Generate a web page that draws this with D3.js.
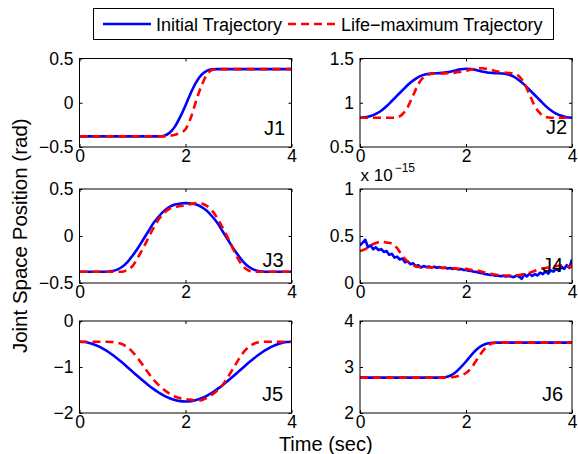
<!DOCTYPE html>
<html>
<head>
<meta charset="utf-8">
<script src="https://cdn.jsdelivr.net/npm/d3@7"></script>
<style>
body { margin: 0; background: #fff; }
text { font-family: "Liberation Sans", Arial, Helvetica, sans-serif; fill: #000; }
</style>
</head>
<body>
<div id="chart"></div>
<script>
// time samples (sec)
var time = [0,0.1,0.2,0.3,0.4,0.5,0.6,0.7,0.8,0.9,1,1.1,1.2,1.3,1.4,1.5,1.6,1.7,1.8,1.9,2,
  2.1,2.2,2.3,2.4,2.5,2.6,2.7,2.8,2.9,3,3.1,3.2,3.3,3.4,3.5,3.6,3.7,3.8,3.9,4];
// finer samples for the noisy J4 trace
var timeFine = [0,0.05,0.1,0.15,0.2,0.25,0.3,0.35,0.4,0.45,0.5,0.55,0.6,0.65,0.7,0.75,0.8,0.85,0.9,0.95,
  1,1.05,1.1,1.15,1.2,1.25,1.3,1.35,1.4,1.45,1.5,1.55,1.6,1.65,1.7,1.75,1.8,1.85,1.9,1.95,
  2,2.05,2.1,2.15,2.2,2.25,2.3,2.35,2.4,2.45,2.5,2.55,2.6,2.65,2.7,2.75,2.8,2.85,2.9,2.95,
  3,3.05,3.1,3.15,3.2,3.25,3.3,3.35,3.4,3.45,3.5,3.55,3.6,3.65,3.7,3.75,3.8,3.85,3.9,3.95,4];

var j1Initial = [-0.38,-0.38,-0.38,-0.38,-0.38,-0.38,-0.38,-0.38,-0.38,-0.38,-0.38,-0.38,-0.38,-0.38,-0.38,-0.38,
  -0.372,-0.34,-0.27,-0.16,-0.03,0.11,0.23,0.315,0.36,
  0.378,0.38,0.38,0.38,0.38,0.38,0.38,0.38,0.38,0.38,0.38,0.38,0.38,0.38,0.38,0.38];
var j1Life = [-0.38,-0.38,-0.38,-0.38,-0.38,-0.38,-0.38,-0.38,-0.38,-0.38,-0.38,-0.38,-0.38,-0.38,-0.38,-0.38,-0.38,
  -0.375,-0.362,-0.34,-0.3,-0.17,0.02,0.19,0.315,0.37,
  0.38,0.38,0.38,0.38,0.38,0.38,0.38,0.38,0.38,0.38,0.38,0.38,0.38,0.38,0.38];

var j2Initial = [0.83,0.835,0.85,0.875,0.91,0.96,1.02,1.08,1.14,1.2,1.25,1.29,1.315,1.328,1.333,1.335,1.34,1.35,1.365,1.378,1.385,
  1.38,1.368,1.353,1.342,1.336,1.334,1.33,1.318,1.295,1.255,1.205,1.145,1.085,1.025,0.965,0.915,0.878,0.852,0.836,0.83];
var j2Life = [0.83,0.83,0.83,0.83,0.83,0.83,0.83,0.835,0.87,0.95,1.08,1.21,1.29,1.32,1.33,1.33,1.332,1.335,1.34,1.35,1.36,
  1.375,1.385,1.39,1.382,1.367,1.352,1.342,1.336,1.328,1.3,1.22,1.09,0.96,0.88,0.84,0.83,0.83,0.83,0.83,0.83];

var j3Initial = [-0.38,-0.38,-0.38,-0.38,-0.38,-0.38,-0.375,-0.36,-0.33,-0.28,-0.21,-0.13,-0.04,0.05,0.14,0.21,0.27,0.31,0.335,0.345,0.35,
  0.345,0.335,0.31,0.27,0.21,0.14,0.05,-0.04,-0.13,-0.21,-0.28,-0.33,-0.36,-0.375,-0.38,-0.38,-0.38,-0.38,-0.38,-0.38];
var j3Life = [-0.38,-0.38,-0.38,-0.38,-0.38,-0.38,-0.38,-0.38,-0.38,-0.36,-0.32,-0.23,-0.13,-0.02,0.09,0.18,0.25,0.29,0.31,0.32,0.325,
  0.34,0.35,0.345,0.32,0.27,0.19,0.09,-0.02,-0.14,-0.25,-0.33,-0.37,-0.38,-0.38,-0.38,-0.38,-0.38,-0.38,-0.38,-0.38];

// J4 values are in units of 1e-15 rad
var j4Initial = [0.4,0.43,0.46,0.38,0.4,0.36,0.38,0.35,0.36,0.33,0.34,0.3,0.31,0.27,0.28,0.25,0.26,0.22,0.23,0.2,
  0.21,0.18,0.19,0.165,0.18,0.17,0.175,0.165,0.172,0.162,0.17,0.16,0.165,0.155,0.16,0.15,0.155,0.145,0.148,0.14,
  0.138,0.13,0.128,0.12,0.118,0.11,0.105,0.095,0.092,0.085,0.088,0.078,0.08,0.072,0.078,0.068,0.075,0.07,0.062,0.078,
  0.07,0.045,0.092,0.07,0.1,0.075,0.095,0.08,0.11,0.095,0.125,0.1,0.135,0.12,0.15,0.13,0.175,0.15,0.19,0.16,0.25];
var j4Life = [0.34,0.36,0.4,0.425,0.44,0.43,0.42,0.37,0.29,0.23,0.19,0.17,0.17,0.165,0.17,0.165,0.16,0.16,0.155,0.15,0.15,
  0.14,0.135,0.12,0.105,0.095,0.085,0.08,0.08,0.08,0.085,0.095,0.11,0.13,0.15,0.16,0.17,0.18,0.185,0.18,0.17];

var j5Initial = [-0.45,-0.458,-0.482,-0.521,-0.574,-0.64,-0.718,-0.805,-0.899,-0.998,-1.1,-1.202,-1.301,-1.395,-1.482,-1.56,-1.626,-1.679,-1.718,-1.742,-1.75,
  -1.742,-1.718,-1.679,-1.626,-1.56,-1.482,-1.395,-1.301,-1.202,-1.1,-0.998,-0.899,-0.805,-0.718,-0.64,-0.574,-0.521,-0.482,-0.458,-0.45];
var j5Life = [-0.45,-0.45,-0.45,-0.45,-0.45,-0.45,-0.455,-0.47,-0.5,-0.57,-0.67,-0.81,-0.97,-1.13,-1.28,-1.4,-1.5,-1.58,-1.64,-1.68,-1.7,
  -1.71,-1.73,-1.72,-1.67,-1.6,-1.51,-1.39,-1.22,-1.03,-0.84,-0.67,-0.56,-0.49,-0.46,-0.45,-0.45,-0.45,-0.45,-0.45,-0.45];

var j6Initial = [2.77,2.77,2.77,2.77,2.77,2.77,2.77,2.77,2.77,2.77,2.77,2.77,2.77,2.77,2.77,2.77,
  2.776,2.81,2.88,2.99,3.12,3.26,3.38,3.465,3.51,
  3.528,3.53,3.53,3.53,3.53,3.53,3.53,3.53,3.53,3.53,3.53,3.53,3.53,3.53,3.53,3.53];
var j6Life = [2.77,2.77,2.77,2.77,2.77,2.77,2.77,2.77,2.77,2.77,2.77,2.77,2.77,2.77,2.77,2.77,2.77,
  2.775,2.79,2.82,2.87,2.98,3.15,3.32,3.45,3.515,
  3.53,3.53,3.53,3.53,3.53,3.53,3.53,3.53,3.53,3.53,3.53,3.53,3.53,3.53,3.53];

var xTicks = [0, 2, 4];
var seriesNames = ["Initial Trajectory", "Life\u2212maximum Trajectory"];

var panels = [
  {name: "J1", col: 0, row: 0, domain: [-0.5, 0.5], ticks: [-0.5, 0, 0.5], initial: j1Initial, life: j1Life, tInit: time},
  {name: "J2", col: 1, row: 0, domain: [0.5, 1.5], ticks: [0.5, 1, 1.5], initial: j2Initial, life: j2Life, tInit: time},
  {name: "J3", col: 0, row: 1, domain: [-0.5, 0.5], ticks: [-0.5, 0, 0.5], initial: j3Initial, life: j3Life, tInit: time},
  {name: "J4", col: 1, row: 1, domain: [0, 1], ticks: [0, 0.5, 1], initial: j4Initial, life: j4Life, tInit: timeFine, exp: true},
  {name: "J5", col: 0, row: 2, domain: [-2, 0], ticks: [-2, -1, 0], initial: j5Initial, life: j5Life, tInit: time},
  {name: "J6", col: 1, row: 2, domain: [2, 4], ticks: [2, 3, 4], initial: j6Initial, life: j6Life, tInit: time}
];

// layout
var W = 578, H = 454;
var colX = [79.5, 360], panelW = 212;
var rowTop = [58.5, 189, 321], rowH = [88.5, 94, 92];
// label offsets from the panel's bottom-right corner
var labelOff = {J1: [6.5, 12], J2: [5, 13], J3: [8, 16], J4: [9, 11], J5: [8.5, 12], J6: [9, 12]};

var blue = "#0000ff", red = "#ff0000";
var fmt = d3.format("~g");

var svg = d3.select("#chart").append("svg")
  .attr("width", W)
  .attr("height", H);

panels.forEach(function(p, i) {
  var w = panelW, h = rowH[p.row];
  var g = svg.append("g")
    .attr("transform", "translate(" + colX[p.col] + "," + rowTop[p.row] + ")");

  var x = d3.scaleLinear().domain([0, 4]).range([0, w]);
  var y = d3.scaleLinear().domain(p.domain).range([h, 0]);

  g.append("clipPath").attr("id", "clip" + i)
    .append("rect").attr("width", w).attr("height", h);

  var lineInit = d3.line()
    .x(function(d, k) { return x(p.tInit[k]); })
    .y(function(d) { return y(d); })
    .curve(p.exp ? d3.curveLinear : d3.curveMonotoneX);
  var lineLife = d3.line()
    .x(function(d, k) { return x(time[k]); })
    .y(function(d) { return y(d); })
    .curve(d3.curveMonotoneX);

  var lines = g.append("g").attr("clip-path", "url(#clip" + i + ")");
  lines.append("path")
    .datum(p.initial)
    .attr("d", lineInit)
    .attr("fill", "none")
    .attr("stroke", blue)
    .attr("stroke-width", 2.6)
    .attr("stroke-linejoin", "round");
  lines.append("path")
    .datum(p.life)
    .attr("d", lineLife)
    .attr("fill", "none")
    .attr("stroke", red)
    .attr("stroke-width", 2.6)
    .attr("stroke-dasharray", "8,5");

  // axes, ticks pointing inward
  g.append("g")
    .attr("transform", "translate(0," + h + ")")
    .call(d3.axisBottom(x).tickValues(xTicks).tickSize(-3).tickPadding(3).tickFormat(fmt));
  g.append("g")
    .call(d3.axisTop(x).tickValues(xTicks).tickSize(-3).tickFormat(""));
  g.append("g")
    .call(d3.axisLeft(y).tickValues(p.ticks).tickSize(-3).tickPadding(6).tickFormat(fmt));
  g.append("g")
    .attr("transform", "translate(" + w + ",0)")
    .call(d3.axisRight(y).tickValues(p.ticks).tickSize(-3).tickFormat(""));

  g.selectAll(".domain").remove();
  g.selectAll(".tick line").attr("stroke", "#000");
  g.selectAll(".tick text")
    .attr("font-family", "Liberation Sans, Arial, sans-serif")
    .attr("font-size", 17.5)
    .attr("fill", "#000");

  g.append("rect")
    .attr("width", w)
    .attr("height", h)
    .attr("fill", "none")
    .attr("stroke", "#000")
    .attr("stroke-width", 1);

  var off = labelOff[p.name];
  g.append("text")
    .attr("x", w - off[0])
    .attr("y", h - off[1])
    .attr("text-anchor", "end")
    .attr("font-size", 20)
    .text(p.name);

  if (p.exp) {
    var t = g.append("text")
      .attr("x", 0.5)
      .attr("y", -8)
      .attr("font-size", 17)
      .text("x 10");
    t.append("tspan")
      .attr("dy", -9)
      .attr("dx", 2)
      .attr("font-size", 12)
      .text("\u221215");
  }
});

// axis labels
svg.append("text")
  .attr("x", (colX[0] + colX[1] + panelW) / 2)
  .attr("y", 450.5)
  .attr("text-anchor", "middle")
  .attr("font-size", 20)
  .text("Time (sec)");

svg.append("text")
  .attr("transform", "translate(27," + (rowTop[0] + rowTop[2] + rowH[2]) / 2 + ")rotate(-90)")
  .attr("text-anchor", "middle")
  .attr("font-size", 20.5)
  .text("Joint Space Position (rad)");

// legend
var legend = svg.append("g");
legend.append("rect")
  .attr("x", 93.5).attr("y", 8.5)
  .attr("width", 460).attr("height", 31)
  .attr("fill", "#fff")
  .attr("stroke", "#000")
  .attr("stroke-width", 1);

var legendItems = [
  {name: seriesNames[0], color: blue, dash: null, x0: 103},
  {name: seriesNames[1], color: red, dash: "8,5", x0: 288}
];
legendItems.forEach(function(d) {
  legend.append("line")
    .attr("x1", d.x0).attr("x2", d.x0 + 48)
    .attr("y1", 24).attr("y2", 24)
    .attr("stroke", d.color)
    .attr("stroke-width", 2.6)
    .attr("stroke-dasharray", d.dash);
  legend.append("text")
    .attr("x", d.x0 + 53)
    .attr("y", 30.5)
    .attr("font-size", 18)
    .text(d.name);
});
</script>
</body>
</html>
